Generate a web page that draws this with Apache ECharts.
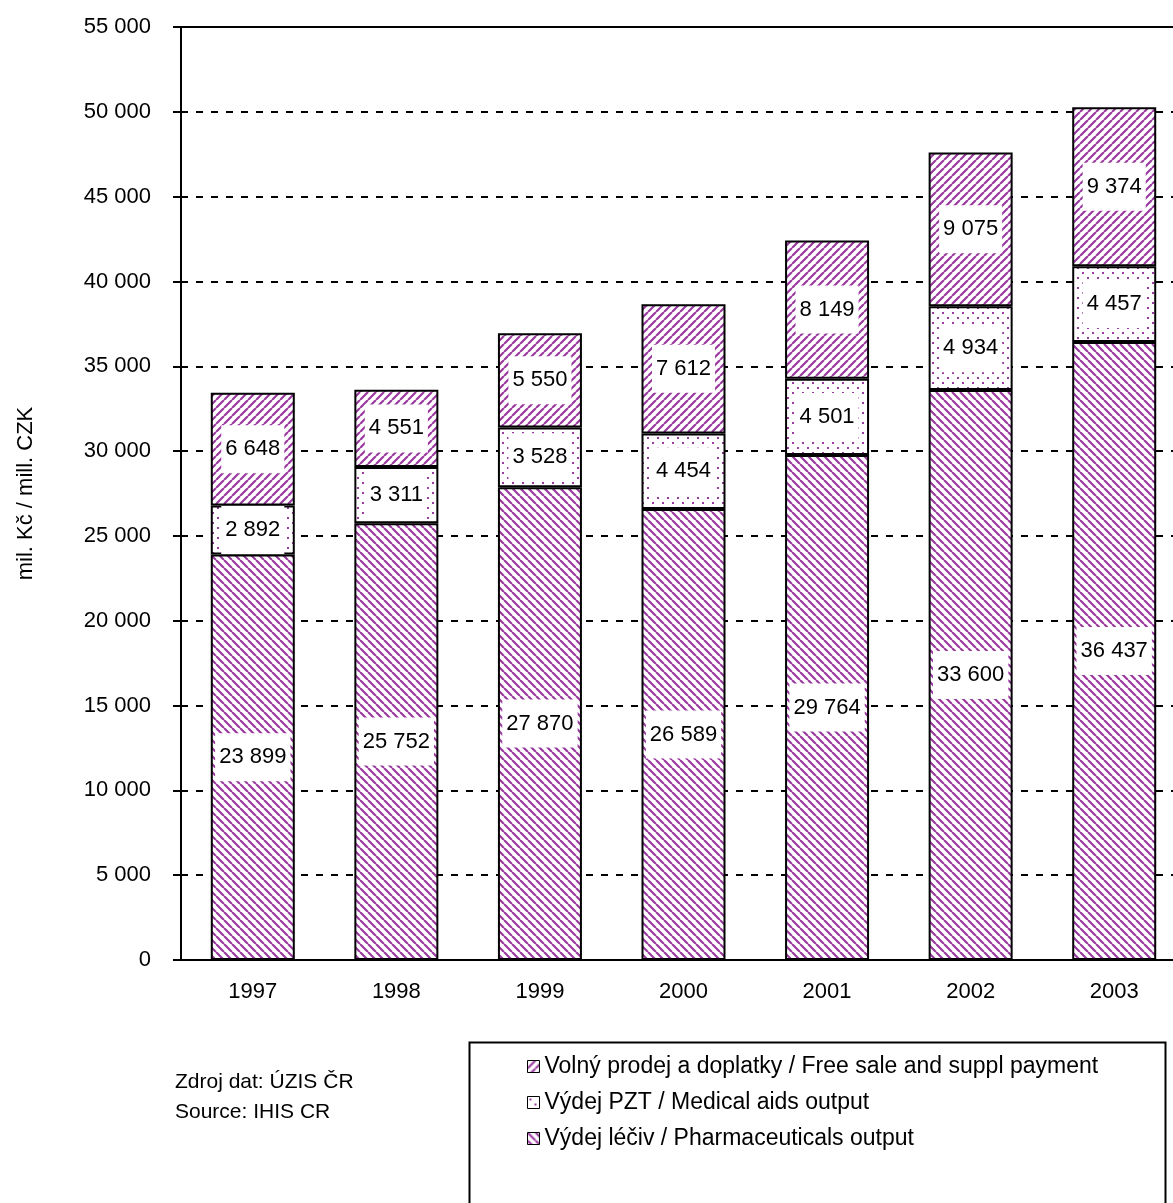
<!DOCTYPE html>
<html>
<head>
<meta charset="utf-8">
<script src="https://cdn.jsdelivr.net/npm/echarts@6/dist/echarts.min.js"></script>
<style>
html,body{margin:0;padding:0;background:#fff;overflow:hidden;}
#chart{width:1200px;height:1203px;}
</style>
</head>
<body>
<div id="chart"></div>
<script>
const categories = ['1997','1998','1999','2000','2001','2002','2003'];
const pharmaceuticals = [23899, 25752, 27870, 26589, 29764, 33600, 36437];
const medicalAids = [2892, 3311, 3528, 4454, 4501, 4934, 4457];
const freeSale = [6648, 4551, 5550, 7612, 8149, 9075, 9374];
const seriesNames = [
  'Volný prodej a doplatky / Free sale and suppl payment',
  'Výdej PZT / Medical aids output',
  'Výdej léčiv / Pharmaceuticals output'
];
const yTicks = {min: 0, max: 55000, interval: 5000};

const PURPLE = '#9b3aa0';
function stripe(dir) {
  const s = 8;
  const c = document.createElement('canvas');
  c.width = s; c.height = s;
  const g = c.getContext('2d');
  g.fillStyle = '#fff'; g.fillRect(0, 0, s, s);
  g.strokeStyle = PURPLE; g.lineWidth = 2.2;
  g.beginPath();
  for (let k = -1; k <= 1; k++) {
    if (dir === 'down') { g.moveTo(k * s, 0); g.lineTo(k * s + s, s); }
    else { g.moveTo(k * s, s); g.lineTo(k * s + s, 0); }
  }
  g.stroke();
  return {image: c, repeat: 'repeat'};
}
function dots() {
  const s = 10;
  const c = document.createElement('canvas');
  c.width = s; c.height = s;
  const g = c.getContext('2d');
  g.fillStyle = '#fff'; g.fillRect(0, 0, s, s);
  g.fillStyle = PURPLE;
  g.fillRect(2, 2, 2, 2);
  g.fillRect(7, 7, 2, 2);
  return {image: c, repeat: 'repeat'};
}
const fmt = v => String(v).replace(/\B(?=(\d{3})+(?!\d))/g, ' ');
const FONT = "'Liberation Sans', Arial, sans-serif";

const labelCfg = {
  show: true, position: 'inside', color: '#000', fontSize: 22, fontFamily: FONT,
  backgroundColor: '#fff', padding: [13, 4],
  formatter: p => fmt(p.value)
};

const chart = echarts.init(document.getElementById('chart'), null, {renderer: 'canvas'});
chart.setOption({
  backgroundColor: '#fff',
  animation: false,
  textStyle: {fontFamily: FONT},
  grid: {left: 181, top: 27, width: 1005, height: 933, show: true, borderColor: '#000', borderWidth: 2, backgroundColor: 'transparent'},
  xAxis: {
    type: 'category', data: categories,
    axisLine: {lineStyle: {color: '#000', width: 2}},
    axisTick: {length: 9, lineStyle: {color: '#000', width: 2}},
    axisLabel: {color: '#000', fontSize: 22, fontFamily: FONT, margin: 21}
  },
  yAxis: {
    type: 'value', min: yTicks.min, max: yTicks.max, interval: yTicks.interval,
    name: 'mil. Kč / mill. CZK', nameLocation: 'middle', nameGap: 144,
    nameTextStyle: {color: '#000', fontSize: 22, fontFamily: FONT},
    axisLine: {show: true, lineStyle: {color: '#000', width: 2}},
    axisTick: {show: true, length: 8, lineStyle: {color: '#000', width: 2}},
    axisLabel: {color: '#000', fontSize: 22, fontFamily: FONT, margin: 30, formatter: fmt},
    splitLine: {show: true, lineStyle: {color: '#000', width: 2, type: [7, 8]}}
  },
  legend: {
    orient: 'vertical', left: 522, top: 1050, itemGap: 13,
    itemWidth: 12, itemHeight: 12, icon: 'rect',
    itemStyle: {borderColor: '#000', borderWidth: 1},
    textStyle: {color: '#000', fontSize: 23, fontFamily: FONT},
    data: seriesNames
  },
  graphic: [
    {type: 'rect', left: 467, top: 1040, shape: {width: 696, height: 200}, style: {fill: 'none', stroke: '#000', lineWidth: 2}, z: -1},
    {type: 'text', left: 175, top: 1072, style: {text: 'Zdroj dat: ÚZIS ČR', fill: '#000', font: "21px 'Liberation Sans', Arial"}},
    {type: 'text', left: 175, top: 1102, style: {text: 'Source: IHIS CR', fill: '#000', font: "21px 'Liberation Sans', Arial"}}
  ],
  series: [
    {name: seriesNames[2], type: 'bar', stack: 'a', barWidth: 84, data: pharmaceuticals,
     itemStyle: {color: stripe('down'), borderColor: '#000', borderWidth: 2}, label: labelCfg},
    {name: seriesNames[1], type: 'bar', stack: 'a', barWidth: 84, data: medicalAids,
     itemStyle: {color: dots(), borderColor: '#000', borderWidth: 2}, label: labelCfg},
    {name: seriesNames[0], type: 'bar', stack: 'a', barWidth: 84, data: freeSale,
     itemStyle: {color: stripe('up'), borderColor: '#000', borderWidth: 2}, label: labelCfg}
  ]
});
</script>
</body>
</html>
